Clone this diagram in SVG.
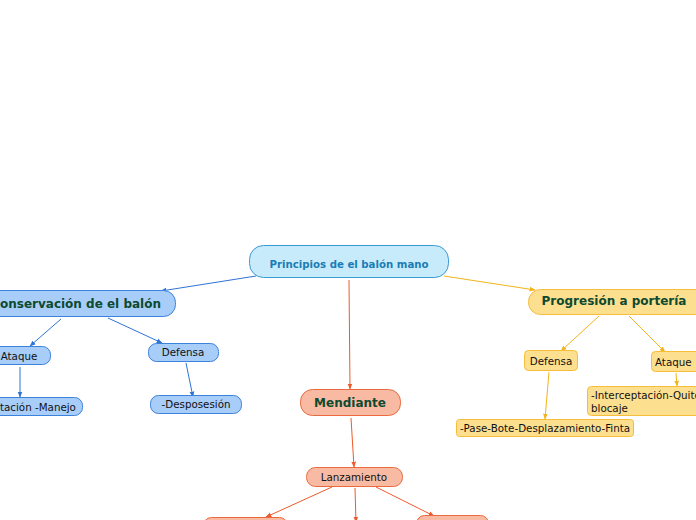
<svg xmlns="http://www.w3.org/2000/svg" width="696" height="520" viewBox="0 0 696 520">
<defs>
<marker id="ab" viewBox="0 0 10 10" refX="9" refY="5" markerWidth="6" markerHeight="6" orient="auto"><path d="M0,1 L10,5 L0,9 z" fill="#2f73d6"/></marker>
<marker id="ao" viewBox="0 0 10 10" refX="9" refY="5" markerWidth="6" markerHeight="6" orient="auto"><path d="M0,1 L10,5 L0,9 z" fill="#f2b31b"/></marker>
<marker id="ar" viewBox="0 0 10 10" refX="9" refY="5" markerWidth="6" markerHeight="6" orient="auto"><path d="M0,1 L10,5 L0,9 z" fill="#ec5a2c"/></marker>
</defs>
<style>
text{font-family:"DejaVu Sans","Liberation Sans",sans-serif;text-anchor:middle;dominant-baseline:central;}
.b{stroke:#2f73d6;fill:none;stroke-width:1;marker-end:url(#ab);}
.o{stroke:#f2b31b;fill:none;stroke-width:1;marker-end:url(#ao);}
.r{stroke:#ec5a2c;fill:none;stroke-width:1;marker-end:url(#ar);}
.nb{fill:#a8cdf8;stroke:#3b82dc;stroke-width:1;}
.no{fill:#fddf90;stroke:#f5bd3a;stroke-width:1;}
.nr{fill:#f9baa4;stroke:#ea6a40;stroke-width:1;}
.main{font-size:12px;font-weight:bold;fill:#0d4a30;}
.sub{font-size:10.3px;fill:#111;}
</style>
<rect width="696" height="520" fill="#ffffff"/>
<g id="connectors">
<line class="b" x1="256" y1="276" x2="161" y2="291"/>
<line class="o" x1="444" y1="276" x2="535" y2="290"/>
<line class="r" x1="349" y1="280" x2="350" y2="389"/>
<line class="b" x1="61" y1="319" x2="30" y2="346"/>
<line class="b" x1="108" y1="318" x2="162" y2="343"/>
<line class="b" x1="20" y1="367" x2="20" y2="397"/>
<line class="b" x1="186" y1="363" x2="193" y2="397"/>
<line class="o" x1="599" y1="316" x2="561" y2="351"/>
<line class="o" x1="629" y1="316" x2="665" y2="352"/>
<line class="o" x1="676" y1="373" x2="677" y2="386"/>
<line class="o" x1="549" y1="372" x2="545" y2="419"/>
<line class="r" x1="351" y1="418" x2="354" y2="467"/>
<line class="r" x1="332" y1="487" x2="266" y2="517"/>
<line class="r" x1="355" y1="488" x2="356" y2="522"/>
<line class="r" x1="376" y1="487" x2="434" y2="516"/>
</g>
<g id="root">
<rect x="249.5" y="245.5" width="199" height="32" rx="14" fill="#c8ebfc" stroke="#3a9ad4"/>
<text x="349" y="264" style="font-size:10.2px;font-weight:bold;fill:#1a7db5">Principios de el balón mano</text>
</g>
<g id="conservacion">
<rect x="-20.5" y="290.5" width="196" height="26" rx="12" class="nb"/>
<text x="82" y="304" class="main" style="text-anchor:end" transform="translate(79,0)">Conservación de el balón</text>
</g>
<g id="ataque-l">
<rect x="-20.5" y="346.5" width="71" height="18" rx="8" class="nb"/>
<text x="19" y="356" class="sub">Ataque</text>
</g>
<g id="manejo">
<rect x="-30.5" y="397.5" width="113" height="18" rx="8" class="nb"/>
<text x="0" y="407" class="sub" style="text-anchor:start">tación -Manejo</text>
</g>
<g id="defensa-l">
<rect x="148.5" y="343.5" width="70" height="18" rx="8" class="nb"/>
<text x="183" y="352" class="sub">Defensa</text>
</g>
<g id="desposesion">
<rect x="150.5" y="395.5" width="91" height="18" rx="8" class="nb"/>
<text x="196" y="404" class="sub">-Desposesión</text>
</g>
<g id="progresion">
<rect x="528.5" y="289.5" width="190" height="25" rx="12" class="no"/>
<text x="614" y="301" class="main">Progresión a portería</text>
</g>
<g id="defensa-r">
<rect x="524.5" y="350.5" width="53" height="20" rx="4" class="no"/>
<text x="551" y="361" class="sub">Defensa</text>
</g>
<g id="ataque-r">
<rect x="651.5" y="351.5" width="60" height="20" rx="4" class="no"/>
<text x="655" y="362" class="sub" style="text-anchor:start">Ataque</text>
</g>
<g id="interceptacion">
<rect x="587.5" y="386.5" width="130" height="29" rx="4" class="no"/>
<text x="591" y="395" class="sub" style="text-anchor:start">-Interceptación-Quite</text>
<text x="591" y="408" class="sub" style="text-anchor:start">blocaje</text>
</g>
<g id="pase">
<rect x="456.5" y="419.5" width="177" height="17" rx="3" class="no"/>
<text x="545" y="428" class="sub">-Pase-Bote-Desplazamiento-Finta</text>
</g>
<g id="mendiante">
<rect x="300.5" y="389.5" width="100" height="26" rx="12" class="nr"/>
<text x="350" y="403" class="main">Mendiante</text>
</g>
<g id="lanzamiento">
<rect x="306.5" y="467.5" width="96" height="19" rx="9" class="nr"/>
<text x="354" y="477" class="sub">Lanzamiento</text>
</g>
<g id="child-left">
<rect x="203.5" y="517.5" width="84" height="18" rx="8" class="nr"/>
</g>
<g id="child-right">
<rect x="416.5" y="515.5" width="72" height="18" rx="8" class="nr"/>
</g>
</svg>
